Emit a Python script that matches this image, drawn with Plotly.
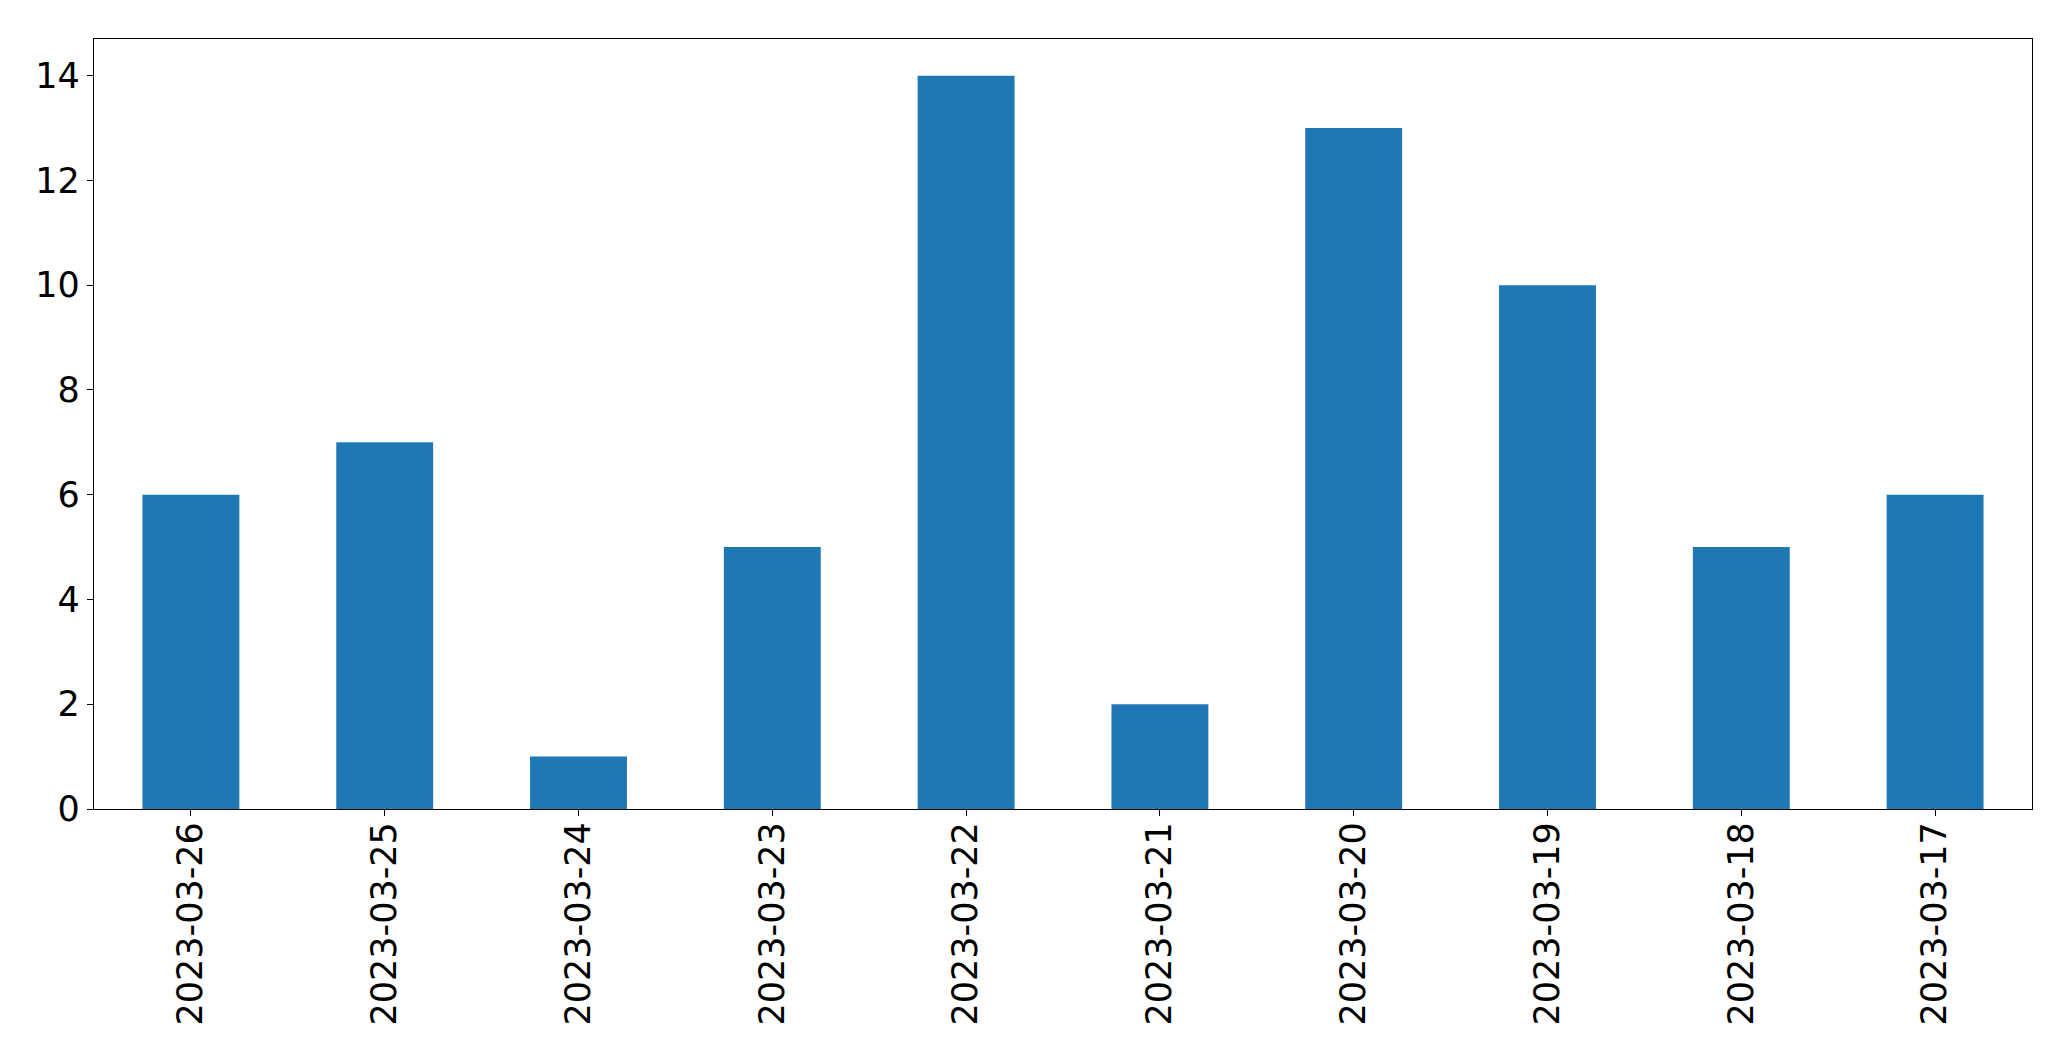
import plotly.graph_objects as go

# fechas y conteos, en el orden del gráfico
dates = ["2023-03-26", "2023-03-25", "2023-03-24", "2023-03-23", "2023-03-22",
         "2023-03-21", "2023-03-20", "2023-03-19", "2023-03-18", "2023-03-17"]
counts = [6, 7, 1, 5, 14, 2, 13, 10, 5, 6]
y_ticks = [0, 2, 4, 6, 8, 10, 12, 14]

fig = go.Figure(go.Bar(
    x=dates, y=counts,
    marker_color="#1f77b4", marker_line_width=0,
    width=0.5,
))

axis_common = dict(
    showline=True, linecolor="black", linewidth=1.3, mirror=True,
    showgrid=False, zeroline=False,
    ticks="outside", ticklen=6, tickwidth=1.3, tickcolor="black",
    tickfont=dict(family="DejaVu Sans", size=35, color="black"),
)

# la página html deja 8px de margen en el body, se descuenta aquí
fig.update_layout(
    width=2063, height=1053,
    paper_bgcolor="white", plot_bgcolor="white",
    margin=dict(l=86, r=39, t=31, b=252),
    showlegend=False,
    xaxis=dict(type="category", range=[-0.5, 9.5], tickangle=-90,
               ticklabelstandoff=-8, **axis_common),
    yaxis=dict(range=[0, 14.7], tickvals=y_ticks, **axis_common),
)

fig.write_html("out.html")
